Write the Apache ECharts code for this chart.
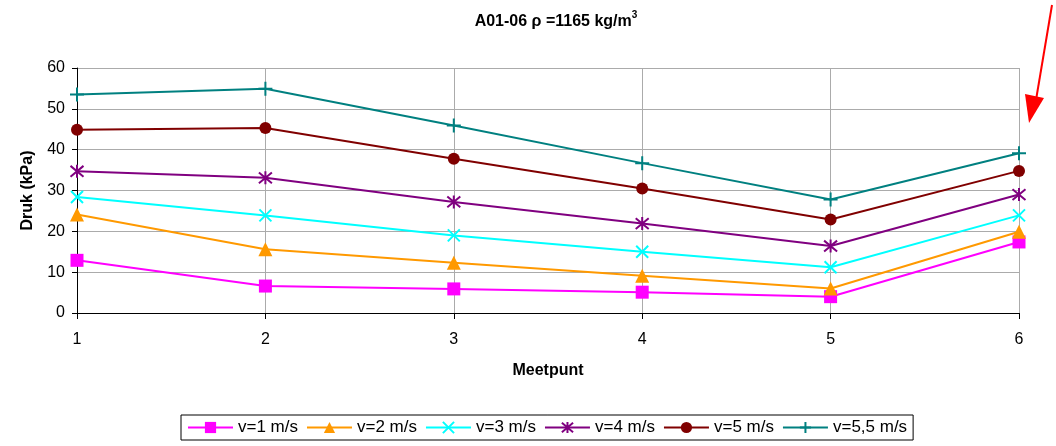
<!DOCTYPE html>
<html>
<head>
<meta charset="utf-8">
<script src="https://cdn.jsdelivr.net/npm/echarts@6/dist/echarts.min.js"></script>
<style>html,body{margin:0;padding:0;background:#fff;}#c{width:1056px;height:446px;}</style>
</head>
<body>
<div id="c"></div>
<script>
const categories = ['1', '2', '3', '4', '5', '6'];
const seriesNames = ['v=1 m/s', 'v=2 m/s', 'v=3 m/s', 'v=4 m/s', 'v=5 m/s', 'v=5,5 m/s'];
const v1 = [12.9, 6.6, 5.9, 5.1, 4.0, 17.4];
const v2 = [24.1, 15.6, 12.3, 9.1, 6.0, 19.9];
const v3 = [28.4, 23.9, 19.0, 15.0, 11.2, 23.9];
const v4 = [34.7, 33.1, 27.2, 21.9, 16.4, 29.0];
const v5 = [44.9, 45.3, 37.8, 30.5, 22.9, 34.8];
const v55 = [53.5, 54.9, 45.9, 36.7, 27.8, 39.1];
const yTicks = [0, 10, 20, 30, 40, 50, 60];

const colors = ['#FF00FF', '#FF9900', '#00FFFF', '#800080', '#800000', '#008080'];
const symbols = [
  'rect',
  'triangle',
  'path://M0,0L10,10M10,0L0,10',
  'path://M0,0L10,10M10,0L0,10M5,-1L5,11',
  'circle',
  'path://M5,0L5,10M0,5L10,5'
];
const sizes = [13, 14, 12, 13, 12, 14];
const strokeOnly = [false, false, true, true, false, true];
const allData = [v1, v2, v3, v4, v5, v55];

const font = 'Liberation Sans, Arial, sans-serif';
const chart = echarts.init(document.getElementById('c'));
chart.setOption({
  animation: false,
  backgroundColor: '#fff',
  title: {
    text: '{a|A01-06 ρ =1165 kg/m}{s|3}',
    left: 551, top: 5, textAlign: 'center',
    textStyle: {
      fontFamily: font, fontSize: 16, fontWeight: 'bold', color: '#000',
      rich: {
        a: {fontFamily: font, fontSize: 16, fontWeight: 'bold', color: '#000', lineHeight: 20, verticalAlign: 'bottom'},
        s: {fontFamily: font, fontSize: 10, fontWeight: 'bold', color: '#000', lineHeight: 20, verticalAlign: 'top', padding: [0, 0, 0, 0]}
      }
    }
  },
  grid: {left: 77, right: 37, top: 68, bottom: 133, containLabel: false},
  legend: {
    left: 181, top: 415,
    data: seriesNames,
    itemWidth: 45, itemHeight: 14, itemGap: 8,
    padding: [4, 6, 4, 6],
    borderColor: '#000', borderWidth: 1, borderRadius: 0,
    textStyle: {fontFamily: font, fontSize: 17, color: '#000'}
  },
  xAxis: {
    type: 'category', data: categories, boundaryGap: false,
    name: 'Meetpunt', nameLocation: 'middle', nameGap: 50,
    nameTextStyle: {fontFamily: font, fontSize: 16, fontWeight: 'bold', color: '#000'},
    axisLine: {lineStyle: {color: '#000', width: 1}},
    axisTick: {show: true, length: 6, lineStyle: {color: '#000'}},
    axisLabel: {fontFamily: font, fontSize: 16, color: '#000', margin: 19},
    splitLine: {show: true, lineStyle: {color: '#ababab', width: 1}}
  },
  yAxis: {
    type: 'value', min: yTicks[0], max: yTicks[yTicks.length - 1], interval: 10,
    name: 'Druk (kPa)', nameLocation: 'middle', nameGap: 41,
    nameTextStyle: {fontFamily: font, fontSize: 16, fontWeight: 'bold', color: '#000'},
    axisLine: {show: true, lineStyle: {color: '#000', width: 1}},
    axisTick: {show: true, length: 5, lineStyle: {color: '#000'}},
    axisLabel: {fontFamily: font, fontSize: 16, color: '#000', margin: 12},
    splitLine: {show: true, lineStyle: {color: '#ababab', width: 1}}
  },
  series: allData.map((d, i) => ({
    name: seriesNames[i],
    type: 'line',
    data: d,
    symbol: symbols[i],
    symbolSize: sizes[i],
    showAllSymbol: true,
    lineStyle: {color: colors[i], width: 2},
    itemStyle: strokeOnly[i]
      ? {color: colors[i], borderColor: colors[i], borderWidth: 2}
      : {color: colors[i], borderColor: colors[i], borderWidth: 0},
    emphasis: {disabled: true}
  })),
  graphic: [
    {type: 'line', shape: {x1: 1052, y1: 5, x2: 1036, y2: 100}, style: {stroke: '#FF0000', lineWidth: 2}},
    {type: 'polygon', shape: {points: [[1025, 94], [1044, 98], [1029, 123]]}, style: {fill: '#FF0000'}}
  ]
});
</script>
</body>
</html>
